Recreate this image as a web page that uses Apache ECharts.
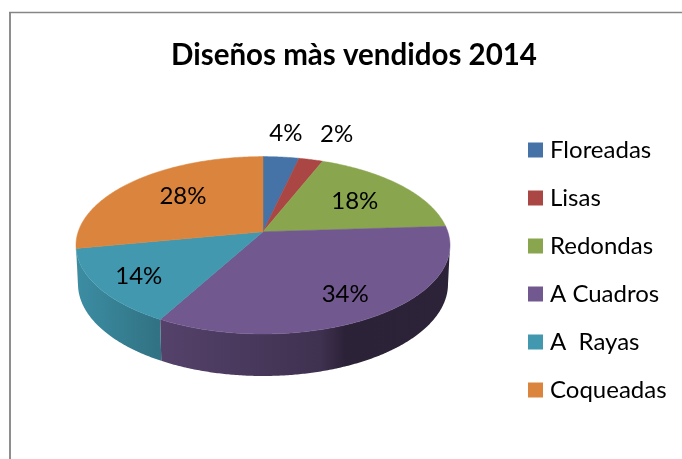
<!DOCTYPE html>
<html>
<head>
<meta charset="utf-8">
<title>Diseños màs vendidos 2014</title>
<script src="https://cdn.jsdelivr.net/npm/echarts@6/dist/echarts.min.js"></script>
<style>
  html, body { margin: 0; padding: 0; background: #fff; }
  #main { width: 682px; height: 459px; }
</style>
</head>
<body>
<div id="main"></div>
<script>
// datos
var categories = ['Floreadas', 'Lisas', 'Redondas', 'A Cuadros', 'A  Rayas', 'Coqueadas'];
var values = [3.6, 2.4, 18, 34, 14, 28];
var colors = ['#4572a7', '#aa4643', '#89a54e', '#71588f', '#4198af', '#db843d'];

// where each label sits: radius as a fraction of the disc, then a small nudge
var labelRadius = [1.38, 1.45, 0.65, 0.75, 0.75, 0.65];
var labelNudge = [[-1, 0], [8, 2], [0, 1], [0, 2], [-4, 4], [7, -2]];

var FONT = 'Lato, Carlito, sans-serif';
var top3d = { cx: 263, cy: 245.3, rx: 187, ry: 88.7 };
var bottom3d = { cx: 263, cy: 284, rx: 185, ry: 92 };
var apexShift = 0.153; // perspective: the pie centre is seen above the ellipse centre

var total = values.reduce(function (a, b) { return a + b; }, 0);

// disc coordinates -> ellipse coordinates, with perspective
function project(theta, r) {
  var x = r * Math.sin(theta);
  var y = r * Math.cos(theta);
  var d = 1 + apexShift * y;
  return [x * Math.sqrt(1 - apexShift * apexShift) / d, (y + apexShift) / d];
}
function toPixel(e, p) {
  return [e.cx + e.rx * p[0], e.cy - e.ry * p[1]];
}
function shade(hex, k) {
  var n = parseInt(hex.slice(1), 16);
  var c = [n >> 16, (n >> 8) & 255, n & 255].map(function (v) { return Math.round(v * k); });
  return 'rgb(' + c.join(',') + ')';
}
function wallFill(color) {
  // darkening along x over the whole pie
  var x0 = 76, x1 = 450;
  var stops = [[76, 0.93], [160, 0.75], [320, 0.56], [345, 0.39], [450, 0.4]];
  return new echarts.graphic.LinearGradient(x0, 0, x1, 0, stops.map(function (s) {
    return { offset: (s[0] - x0) / (x1 - x0), color: shade(color, s[1]) };
  }), true);
}

function makeRenderItem(i) {
  var before = values.slice(0, i).reduce(function (a, b) { return a + b; }, 0);
  return function (params, api) {
    var value = api.value(0);
    var a0 = before / total * Math.PI * 2;
    var a1 = (before + value) / total * Math.PI * 2;
    var steps = Math.max(8, Math.ceil((a1 - a0) / (Math.PI / 360)));
    var rimTop = [];
    var wallTop = [];
    var wallBottom = [];
    for (var s = 0; s <= steps; s++) {
      var t = a0 + (a1 - a0) * s / steps;
      var p = project(t, 1);
      rimTop.push(toPixel(top3d, p));
      if (p[1] <= 0) { // only the front of the rim shows a wall
        wallTop.push(toPixel(top3d, p));
        wallBottom.push(toPixel(bottom3d, p));
      }
    }
    var children = [];
    if (wallTop.length > 1) {
      children.push({
        type: 'polygon',
        shape: { points: wallTop.concat(wallBottom.reverse()) },
        style: { fill: wallFill(colors[i]) }
      });
    }
    children.push({
      type: 'polygon',
      shape: { points: [toPixel(top3d, [0, apexShift])].concat(rimTop) },
      style: { fill: colors[i], stroke: colors[i], lineWidth: 0.5 }
    });
    var lp = toPixel(top3d, project((a0 + a1) / 2, labelRadius[i]));
    children.push({
      type: 'text',
      z2: 10,
      style: {
        text: Math.round(value / total * 100) + '%',
        x: lp[0] + labelNudge[i][0],
        y: lp[1] + labelNudge[i][1],
        align: 'center',
        verticalAlign: 'middle',
        fill: '#000',
        font: '24px ' + FONT
      }
    });
    return { type: 'group', children: children };
  };
}

var chart = echarts.init(document.getElementById('main'), null, { renderer: 'canvas' });
chart.setOption({
  animation: false,
  backgroundColor: '#fff',
  title: {
    text: 'Diseños màs vendidos 2014',
    left: 349,
    top: 35,
    textAlign: 'center',
    textStyle: { fontFamily: FONT, fontSize: 29.5, fontWeight: 'bold', color: '#000' }
  },
  legend: {
    orient: 'vertical',
    left: 523,
    top: 131,
    icon: 'rect',
    itemWidth: 15,
    itemHeight: 15,
    itemGap: 20,
    selectedMode: false,
    textStyle: { fontFamily: FONT, fontSize: 24, color: '#000', lineHeight: 28, padding: [0, 0, 0, 2] },
    data: categories
  },
  graphic: [
    { type: 'line', shape: { x1: 10, y1: 12, x2: 10, y2: 459 }, style: { stroke: '#8e8e8e', lineWidth: 2 } },
    { type: 'line', shape: { x1: 9, y1: 12.5, x2: 682, y2: 12.5 }, style: { stroke: '#868686', lineWidth: 1.5 } }
  ],
  series: categories.map(function (name, i) {
    return {
      type: 'custom',
      name: name,
      coordinateSystem: 'none',
      itemStyle: { color: colors[i] },
      renderItem: makeRenderItem(i),
      data: [[values[i]]]
    };
  })
});
</script>
</body>
</html>
